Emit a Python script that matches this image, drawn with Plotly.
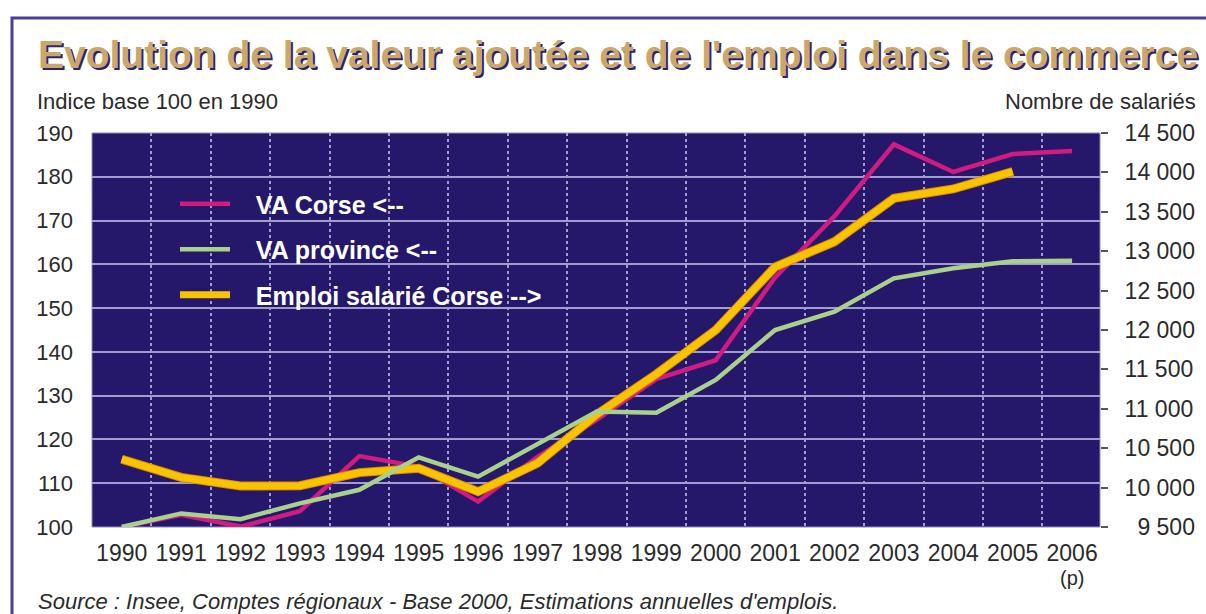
import plotly.graph_objects as go

# ---- data ----
years = list(range(1990, 2007))
va_corse = [100, 102.8, 100.1, 103.6, 116.2, 113.8, 105.8, 116.0, 124.5, 133.8,
            138.1, 157.0, 171.0, 187.4, 181.1, 185.2, 185.9]
va_province = [100, 103.1, 101.8, 105.4, 108.5, 115.9, 111.5, 119.0, 126.4, 126.1,
               133.6, 145.0, 149.2, 156.8, 159.1, 160.7, 160.8]
emploi_years = list(range(1990, 2006))
emploi = [10360, 10130, 10020, 10025, 10190, 10245, 9948, 10310, 10930, 11440,
          12000, 12800, 13120, 13671, 13790, 14009]

year_labels = [str(y) for y in years]
left_ticks = list(range(100, 200, 10))
right_ticks = list(range(9500, 15000, 500))
right_labels = [("\u2007" if v < 10000 else "") + f"{v:,}".replace(",", " ") for v in right_ticks]

# ---- geometry helpers (pixel -> paper) ----
L, R, T, B = 92, 106, 133, 87
W, H = 1206, 614
PW, PH = W - L - R, H - T - B
def px(x):
    return (x - L) / PW
def py(y):
    return (H - B - y) / PH

BG = "#25186b"
GRID = "#a29dcf"
MAG = "#d01b80"
GREEN = "#a9d18c"
YEL = "#f8c400"
TXT = "#2a2a2a"
FONT = "Liberation Sans, Arial, sans-serif"
PAD = "\u00a0\u00a0\u00a0"

fig = go.Figure()

fig.add_trace(go.Scatter(x=years, y=va_corse, name=PAD + "VA Corse <--", mode="lines",
                         line=dict(color=MAG, width=4.5), yaxis="y", legendgroup="a"))
fig.add_trace(go.Scatter(x=years, y=va_province, name=PAD + "VA province <--", mode="lines",
                         line=dict(color=GREEN, width=4.5), yaxis="y3", legendgroup="b"))
fig.add_trace(go.Scatter(x=emploi_years, y=emploi, name="edge", mode="lines",
                         line=dict(color="#e08a00", width=9), yaxis="y2",
                         showlegend=False, hoverinfo="skip", legendgroup="c"))
fig.add_trace(go.Scatter(x=emploi_years, y=emploi, name=PAD + "Emploi salarié Corse -->", mode="lines",
                         line=dict(color=YEL, width=7), yaxis="y2", legendgroup="c"))

fig.update_layout(
    width=W, height=H,
    margin=dict(l=L, r=R, t=T, b=B, autoexpand=False),
    paper_bgcolor="white", plot_bgcolor=BG,
    font=dict(family=FONT, color=TXT, size=22),
    showlegend=True,
    legend=dict(x=px(175), y=py(181), xanchor="left", yanchor="top",
                bgcolor="rgba(0,0,0,0)", font=dict(color="white", size=25, weight="bold"),
                itemwidth=50, tracegroupgap=10, traceorder="grouped"),
    xaxis=dict(range=[1989.5, 2006.47], tickvals=years, ticktext=year_labels,
               showgrid=False, zeroline=False, ticks="", tickfont=dict(size=23, color=TXT),
               ticklabelstandoff=10, showline=False,
               minor=dict(tickvals=[y + 0.5 for y in years[:-1]], showgrid=True,
                          gridcolor=GRID, griddash="dot", gridwidth=1.5, ticks="")),
    yaxis=dict(range=[100, 190], tickvals=left_ticks, showgrid=True, gridcolor=GRID,
               gridwidth=1.5, zeroline=False, ticks="", tickfont=dict(size=22, color=TXT),
               ticklabelstandoff=18),
    yaxis2=dict(range=[9500, 14500], tickvals=right_ticks, ticktext=right_labels,
                overlaying="y", side="right", showgrid=False, zeroline=False,
                ticks="outside", ticklen=7, tickcolor="#555", tickwidth=1.5,
                tickfont=dict(size=23, color=TXT), ticklabelstandoff=12),
    yaxis3=dict(range=[100, 190], overlaying="y", visible=False, showgrid=False),
)

shapes = [
    # outer frame
    dict(type="rect", xref="paper", yref="paper", x0=px(12), x1=px(1212), y0=py(640), y1=py(18),
         line=dict(color="#4b3f98", width=3), fillcolor="rgba(0,0,0,0)", layer="below"),
    # plot border
    dict(type="rect", xref="paper", yref="paper", x0=0, x1=1, y0=0, y1=1,
         line=dict(color="#8f88c4", width=1), layer="between"),
    # legend background covering the grid
    dict(type="rect", xref="paper", yref="paper", x0=px(158), x1=px(542), y0=py(322), y1=py(170),
         line=dict(width=0), fillcolor=BG, layer="between"),
]
fig.update_layout(shapes=shapes)

title = "Evolution de la valeur ajoutée et de l'emploi dans le commerce"
ann = [
    dict(text=title, x=px(36), y=py(55), xref="paper", yref="paper", xanchor="left", yanchor="middle",
         showarrow=False, xshift=2, yshift=-2,
         font=dict(family=FONT, size=39, color="#2d2170", weight="bold")),
    dict(text=title, x=px(36), y=py(55), xref="paper", yref="paper", xanchor="left", yanchor="middle",
         showarrow=False, font=dict(family=FONT, size=39, color="#c9a86c", weight="bold")),
    dict(text="Indice base 100 en 1990", x=px(35), y=py(101), xref="paper", yref="paper",
         xanchor="left", yanchor="middle", showarrow=False, font=dict(size=22, color=TXT)),
    dict(text="Nombre de salariés", x=px(1198), y=py(101), xref="paper", yref="paper",
         xanchor="right", yanchor="middle", showarrow=False, font=dict(size=22, color=TXT)),
    dict(text="(p)", x=2006, y=py(578), xref="x", yref="paper",
         xanchor="center", yanchor="middle", showarrow=False, font=dict(size=20, color=TXT)),
    dict(text="Source : Insee, Comptes régionaux - Base 2000, Estimations annuelles d'emplois.",
         x=px(36), y=py(601), xref="paper", yref="paper", xanchor="left", yanchor="middle",
         showarrow=False, font=dict(size=22, color=TXT, style="italic")),
]
fig.update_layout(annotations=ann)

fig.write_html("out.html", config={"displayModeBar": False},
               post_script="document.body.style.margin='0';")
